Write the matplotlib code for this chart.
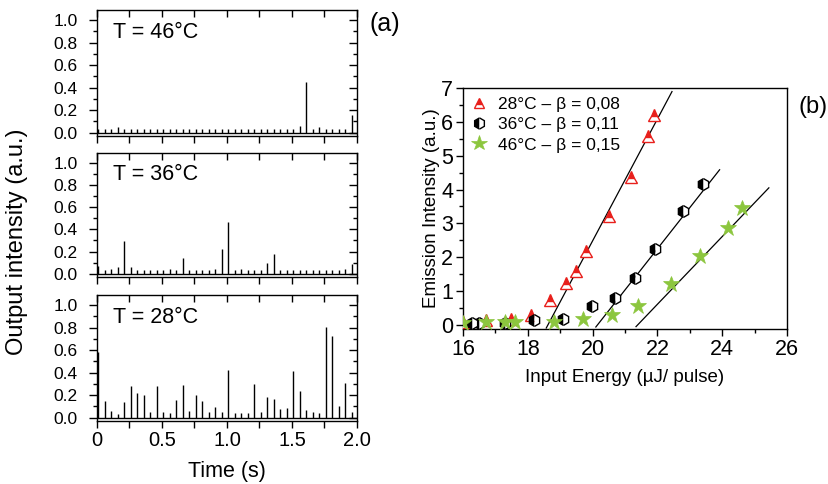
import numpy as np
import matplotlib
matplotlib.use("Agg")
import matplotlib.pyplot as plt
from matplotlib.ticker import MultipleLocator, FixedLocator

plt.rcParams['font.family'] = ['Liberation Sans', 'DejaVu Sans']

# ---------------- data (a) ----------------
t_offset = 0.01
t_step = 0.05
n_pulses = 40

spikes_46 = [0.03, 0.03, 0.03, 0.047, 0.03, 0.03, 0.03, 0.03, 0.03, 0.03,
             0.03, 0.03, 0.03, 0.03, 0.03, 0.03, 0.03, 0.03, 0.03, 0.03,
             0.03, 0.03, 0.03, 0.03, 0.03, 0.03, 0.03, 0.03, 0.035, 0.03,
             0.03, 0.06, 0.45, 0.03, 0.053, 0.03, 0.03, 0.03, 0.03, 0.156]
spikes_36 = [0.065, 0.035, 0.038, 0.06, 0.294, 0.06, 0.03, 0.03, 0.03, 0.03,
             0.035, 0.038, 0.035, 0.138, 0.035, 0.03, 0.035, 0.035, 0.038, 0.22,
             0.468, 0.035, 0.044, 0.035, 0.03, 0.035, 0.097, 0.174, 0.035, 0.035,
             0.035, 0.035, 0.035, 0.035, 0.035, 0.035, 0.035, 0.035, 0.04, 0.088]
spikes_28 = [0.585, 0.144, 0.062, 0.035, 0.135, 0.285, 0.218, 0.197, 0.047, 0.285,
             0.047, 0.041, 0.159, 0.288, 0.056, 0.203, 0.15, 0.047, 0.091, 0.047,
             0.424, 0.041, 0.041, 0.041, 0.303, 0.047, 0.179, 0.162, 0.076, 0.085,
             0.412, 0.238, 0.065, 0.047, 0.041, 0.806, 0.726, 0.106, 0.309, 0.047]
panel_labels = ["T = 46°C", "T = 36°C", "T = 28°C"]

# ---------------- data (b) ----------------
x28 = [16.0, 16.7, 17.47, 18.09, 18.7, 19.19, 19.5, 19.8, 20.5, 21.2, 21.71, 21.9]
y28 = [0.08, 0.14, 0.18, 0.29, 0.74, 1.23, 1.6, 2.18, 3.21, 4.36, 5.59, 6.19]
x36 = [16.28, 16.49, 17.3, 18.2, 19.1, 19.99, 20.7, 21.31, 21.92, 22.8, 23.41]
y36 = [0.07, 0.07, 0.07, 0.16, 0.19, 0.55, 0.79, 1.4, 2.23, 3.36, 4.17]
x46 = [16.0, 16.7, 17.3, 17.6, 18.8, 19.7, 20.6, 21.4, 22.41, 23.3, 24.19, 24.6]
y46 = [0.06, 0.09, 0.09, 0.09, 0.09, 0.18, 0.3, 0.55, 1.21, 2.04, 2.87, 3.45]

# linear fits: threshold (x at y=0), slope, end x
fit28 = (18.62, 1.80, 22.45)
fit36 = (20.15, 1.216, 23.92)
fit46 = (21.39, 1.0, 25.44)
legend_labels = ["28°C – β = 0,08", "36°C – β = 0,11", "46°C – β = 0,15"]

W, H = 829, 484
fig = plt.figure(figsize=(W / 100, H / 100), dpi=100)

def fx(px):
    return px / W

def fy(py):
    return 1 - py / H

left_px, right_px = 97, 357
panel_px = [(10, 136), (153, 277), (295, 421)]
times = t_offset + t_step * np.arange(n_pulses)

for i, (data, lab, (top, bot)) in enumerate(zip([spikes_46, spikes_36, spikes_28],
                                                 panel_labels, panel_px)):
    ax = fig.add_axes([fx(left_px), fy(bot), fx(right_px - left_px), (bot - top) / H])
    ax.vlines(times, 0, data, color='black', linewidth=1.0)
    ax.axhline(0, color='black', linewidth=1.0)
    ax.set_xlim(0, 2.0)
    ax.set_ylim(-0.03, 1.09)
    ax.yaxis.set_major_locator(FixedLocator([0.0, 0.2, 0.4, 0.6, 0.8, 1.0]))
    ax.yaxis.set_minor_locator(FixedLocator([0.1, 0.3, 0.5, 0.7, 0.9]))
    ax.set_yticklabels(["0.0", "0.2", "0.4", "0.6", "0.8", "1.0"], fontsize=12.5)
    ax.xaxis.set_major_locator(FixedLocator([0, 0.5, 1.0, 1.5, 2.0]))
    ax.xaxis.set_minor_locator(FixedLocator([0.25, 0.75, 1.25, 1.75]))
    ax.tick_params(axis='y', which='major', direction='out', length=6, width=1,
                   right=True, pad=8)
    ax.tick_params(axis='y', which='minor', direction='out', length=3, width=1,
                   right=True)
    ax.tick_params(axis='x', which='both', direction='out', length=5, width=1,
                   top=True, pad=2)
    for t in ax.xaxis.get_major_ticks() + ax.xaxis.get_minor_ticks():
        t.tick2line.set_marker(3)
        t.tick2line.set_markersize(5)
    for t in ax.yaxis.get_major_ticks():
        t.tick2line.set_marker(0)
        t.tick2line.set_markersize(6)
    for t in ax.yaxis.get_minor_ticks():
        t.tick2line.set_marker(0)
        t.tick2line.set_markersize(3)
    if i < 2:
        ax.set_xticklabels([])
    else:
        ax.set_xticklabels(["0", "0.5", "1.0", "1.5", "2.0"], fontsize=14.5)
        ax.set_xlabel("Time (s)", fontsize=15.5, labelpad=8)
    for s in ax.spines.values():
        s.set_linewidth(1)
    ax.text(0.06, 0.825, lab, transform=ax.transAxes, fontsize=15.5,
            ha='left', va='center')

fig.text(fx(17), fy(242), "Output intensity (a.u.)", rotation=90,
         fontsize=17, ha='center', va='center')
fig.text(fx(385), fy(24), "(a)", fontsize=18, ha='center', va='center')

# ---------------- panel (b) ----------------
axb = fig.add_axes([fx(463), fy(329), fx(787 - 463), (329 - 88) / H])
for (thr, slope, xend) in [fit28, fit36, fit46]:
    xs = np.array([thr - 0.05, xend])
    axb.plot(xs, slope * (xs - thr), color='black', linewidth=0.9, zorder=1)

axb.plot(x28, y28, linestyle='none', marker='^', markersize=8,
         markerfacecolor='#e8201c', markerfacecoloralt='white', fillstyle='top',
         markeredgecolor='#e8201c', markeredgewidth=1.0, label=legend_labels[0], zorder=3)
axb.plot(x36, y36, linestyle='none', marker='h', markersize=8.5,
         markerfacecolor='black', markerfacecoloralt='white', fillstyle='left',
         markeredgecolor='black', markeredgewidth=1.0, label=legend_labels[1], zorder=3)
axb.plot(x46, y46, linestyle='none', marker='*', markersize=12,
         color='#8cc63e', markeredgewidth=0.5, label=legend_labels[2], zorder=3)

axb.set_xlim(16, 26)
axb.set_ylim(-0.12, 7)
axb.xaxis.set_major_locator(MultipleLocator(2))
axb.xaxis.set_minor_locator(MultipleLocator(1))
axb.yaxis.set_major_locator(MultipleLocator(1))
axb.yaxis.set_minor_locator(MultipleLocator(0.5))
axb.tick_params(which='major', direction='out', length=5, width=1, labelsize=15.5, pad=2)
axb.tick_params(which='minor', direction='out', length=3, width=1)
for s in axb.spines.values():
    s.set_linewidth(1)
axb.set_xlabel("Input Energy (µJ/ pulse)", fontsize=13.5, labelpad=7)
axb.set_ylabel("Emission Intensity (a.u.)", fontsize=13.5, labelpad=1)
leg = axb.legend(loc='upper left', fontsize=12.5, frameon=False, handlelength=0.8,
                 handletextpad=0.7, labelspacing=0.3, borderaxespad=0.2,
                 borderpad=0.3, markerscale=0.95)
fig.text(fx(813), fy(107), "(b)", fontsize=17, ha='center', va='center')

fig.savefig("out.png", dpi=100)
